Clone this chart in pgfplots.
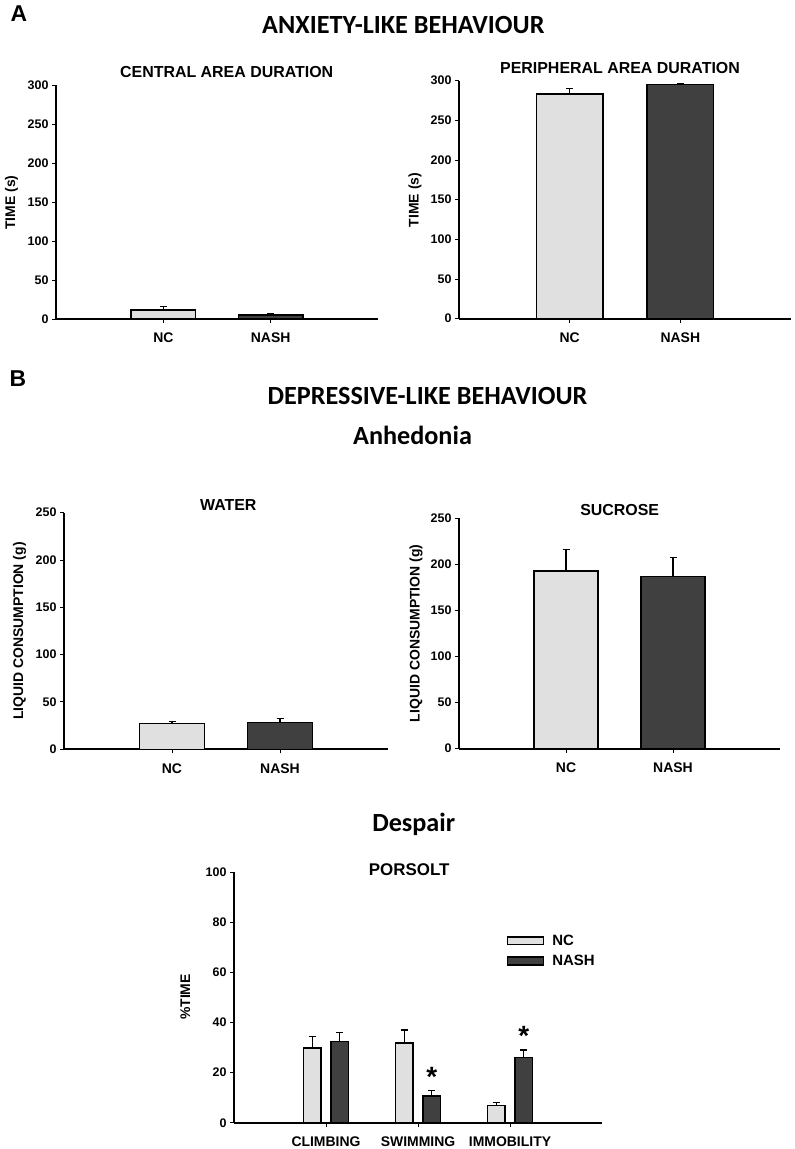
\documentclass[border=0pt]{standalone}
\usepackage{fontspec}
\setmainfont{Liberation Sans}
\newfontfamily\calibri{Carlito}
\usepackage{pgfplots}
\pgfplotsset{compat=1.18}
\definecolor{lightbar}{HTML}{E0E0E0}
\definecolor{darkbar}{HTML}{404040}
\pgfplotsset{
  panel/.style={
    scale only axis,
    anchor=south west,
    axis x line*=bottom, axis y line*=left,
    axis line style={line width=1.8bp, black},
    xmin=0, xmax=3, ymin=0,
    xtick={1,2}, xticklabels={NC,NASH},
    tick align=outside,
    major tick length=4bp,
    tick style={line width=1bp, black},
    /pgf/number format/assume math mode=true,
    yticklabel style={font=\fontsize{12.5}{14}\selectfont\bfseries},
    xticklabel style={font=\fontsize{14}{16}\selectfont\bfseries, yshift=-6.5bp},
    clip=false,
  },
  bars/.style={ybar, bar shift=0pt, bar width=0.6, draw=black, line width=1.5bp, fill=#1,
    /pgfplots/error bars/y dir=plus, /pgfplots/error bars/y explicit,
    /pgfplots/error bars/error mark=-,
    /pgfplots/error bars/error bar style={line width=1.2bp, black},
    /pgfplots/error bars/error mark options={rotate=90, mark size=3.5bp, line width=1.2bp, black}},
  pbars/.style={ybar, bar shift=0pt, bar width=0.19, draw=black, line width=1.5bp, fill=#1,
    /pgfplots/error bars/y dir=plus, /pgfplots/error bars/y explicit,
    /pgfplots/error bars/error mark=-,
    /pgfplots/error bars/error bar style={line width=1.2bp, black},
    /pgfplots/error bars/error mark options={rotate=90, mark size=3.5bp, line width=1.2bp, black}},
}
\begin{document}
\begin{tikzpicture}
\useasboundingbox (0,0) rectangle (795bp,-1149bp);
% headers
\node[anchor=base, font=\fontsize{23}{26}\selectfont\bfseries] at (19bp,-21.7bp) {A};
\node[anchor=base, font=\fontsize{23}{26}\selectfont\bfseries] at (18bp,-386.7bp) {B};
\node[anchor=base, font=\calibri\fontsize{26.3}{30}\selectfont\bfseries] at (403.3bp,-33.3bp) {ANXIETY-LIKE BEHAVIOUR};
\node[anchor=base, font=\calibri\fontsize{26.3}{30}\selectfont\bfseries] at (427.5bp,-404.3bp) {DEPRESSIVE-LIKE BEHAVIOUR};
\node[anchor=base, font=\calibri\fontsize{26.3}{30}\selectfont\bfseries] at (412.5bp,-444bp) {Anhedonia};
\node[anchor=base, font=\calibri\fontsize{26.3}{30}\selectfont\bfseries] at (413.7bp,-831.7bp) {Despair};
% panel titles
\node[anchor=base, font=\fontsize{16}{18}\selectfont\bfseries] at (226.7bp,-77.3bp) {CENTRAL AREA DURATION};
\node[anchor=base, font=\fontsize{16}{18}\selectfont\bfseries] at (620bp,-73.3bp) {PERIPHERAL AREA DURATION};
\node[anchor=base, font=\fontsize{16}{18}\selectfont\bfseries] at (228.3bp,-510bp) {WATER};
\node[anchor=base, font=\fontsize{16}{18}\selectfont\bfseries] at (619.7bp,-515bp) {SUCROSE};
\node[anchor=base, font=\fontsize{17}{19}\selectfont\bfseries] at (409.2bp,-875bp) {PORSOLT};
% y labels
\node[anchor=base, rotate=90, font=\fontsize{14}{16}\selectfont\bfseries] at (15bp,-202.5bp) {TIME (s)};
\node[anchor=base, rotate=90, font=\fontsize{14}{16}\selectfont\bfseries] at (418.5bp,-200bp) {TIME (s)};
\node[anchor=base, rotate=90, font=\fontsize{14}{16}\selectfont\bfseries] at (23bp,-631bp) {LIQUID CONSUMPTION (g)};
\node[anchor=base, rotate=90, font=\fontsize{14}{16}\selectfont\bfseries] at (419.5bp,-633.3bp) {LIQUID CONSUMPTION (g)};
\node[anchor=base, rotate=90, font=\fontsize{14}{16}\selectfont\bfseries] at (190bp,-997bp) {\%TIME};

% Panel A left
\begin{axis}[panel, at={(56bp,-319bp)}, width=322bp, height=234bp, ymax=300, ytick={0,50,...,300}]
\addplot[bars=lightbar] coordinates {(1,11.5) +- (0,5)};
\addplot[bars=darkbar] coordinates {(2,5.1) +- (0,2.2)};
\end{axis}
% Panel A right
\begin{axis}[panel, at={(459bp,-318.7bp)}, width=332bp, height=238bp, ymax=300, ytick={0,50,...,300}]
\addplot[bars=lightbar] coordinates {(1,283) +- (0,7.5)};
\addplot[bars=darkbar] coordinates {(2,295.5) +- (0,1)};
\end{axis}
% Water
\begin{axis}[panel, at={(64bp,-749.3bp)}, width=324bp, height=236.6bp, ymax=250, ytick={0,50,...,250}]
\addplot[bars=lightbar] coordinates {(1,27.5) +- (0,1.7)};
\addplot[bars=darkbar] coordinates {(2,28.5) +- (0,3.8)};
\end{axis}
% Sucrose
\begin{axis}[panel, at={(459bp,-748.7bp)}, width=321bp, height=230.4bp, ymax=250, ytick={0,50,...,250}]
\addplot[bars=lightbar] coordinates {(1,192.8) +- (0,23.2)};
\addplot[bars=darkbar] coordinates {(2,186.6) +- (0,21.1)};
\end{axis}
% Porsolt
\begin{axis}[panel, at={(234bp,-1122.7bp)}, width=368bp, height=250.4bp,
  xmin=0, xmax=4, ymax=100, ytick={0,20,...,100},
  xtick={1,2,3}, xticklabels={CLIMBING,SWIMMING,IMMOBILITY},
  legend style={draw=none, fill=none, at={(axis description cs:0.741,0.76)}, anchor=north west,
    font=\fontsize{15}{17}\selectfont\bfseries, row sep=4.5bp, inner sep=0pt,
    /tikz/every odd column/.append style={column sep=6bp}},
  legend cell align=left,
  legend image code/.code={\draw[#1, line width=1.5bp] (0bp,-3.8bp) rectangle (36bp,3.8bp);},
  ]
\addplot[pbars=lightbar] coordinates {(0.85,29.8) +- (0,4.6) (1.85,31.8) +- (0,5.2) (2.85,6.9) +- (0,1.2)};
\addlegendentry{NC}
\addplot[pbars=darkbar] coordinates {(1.15,32.5) +- (0,3.4) (2.15,10.7) +- (0,2.3) (3.15,26.1) +- (0,2.9)};
\addlegendentry{NASH}
\node[font=\fontsize{28}{30}\selectfont\bfseries] at (axis cs:2.15,18.4) {*};
\node[font=\fontsize{28}{30}\selectfont\bfseries] at (axis cs:3.15,34.6) {*};
\end{axis}
\end{tikzpicture}
\end{document}
